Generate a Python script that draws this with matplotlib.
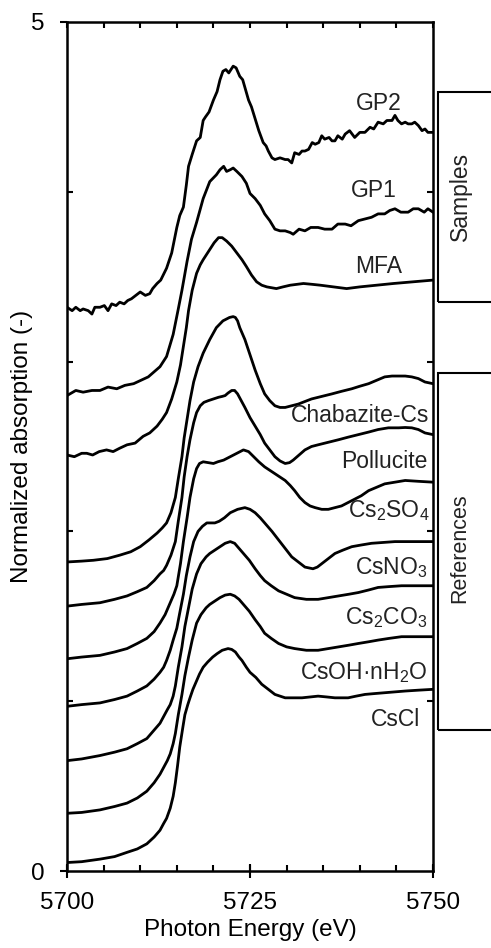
import numpy as np
import matplotlib.pyplot as plt
from matplotlib.patches import Rectangle

plt.rcParams['font.family'] = ['Liberation Sans', 'DejaVu Sans']
plt.rcParams['mathtext.fontset'] = 'custom'
plt.rcParams['mathtext.rm'] = 'Liberation Sans'
plt.rcParams['mathtext.default'] = 'regular'

# Cs L3-edge XANES, stacked: (photon energy eV, normalized absorption + offset)
cscl = [(5700, 0.05), (5702, 0.055), (5704.5, 0.07), (5706.5, 0.085), (5708.2, 0.11),
        (5709.6, 0.13), (5710.9, 0.16), (5711.9, 0.20), (5712.7, 0.24), (5713.2, 0.28),
        (5713.6, 0.31), (5714.1, 0.37), (5714.5, 0.44), (5714.8, 0.52), (5715.1, 0.62),
        (5715.4, 0.73), (5715.8, 0.84), (5716.1, 0.92), (5716.5, 0.98), (5716.8, 1.02),
        (5717.2, 1.07), (5717.6, 1.11), (5718.1, 1.16), (5718.6, 1.20), (5719.2, 1.23),
        (5719.9, 1.26), (5720.5, 1.28), (5721.2, 1.30), (5722.0, 1.31), (5722.5, 1.305),
        (5723.0, 1.29), (5723.5, 1.26), (5723.9, 1.24), (5724.5, 1.20), (5725.0, 1.17),
        (5725.8, 1.14), (5726.6, 1.10), (5727.5, 1.07), (5728.4, 1.04), (5729.1, 1.03),
        (5729.8, 1.02), (5731.0, 1.02), (5732.1, 1.02), (5733.2, 1.025), (5734.3, 1.03),
        (5735.5, 1.025), (5736.6, 1.02), (5738.4, 1.02), (5739.5, 1.03), (5740.7, 1.04),
        (5742.0, 1.045), (5743.4, 1.05), (5744.8, 1.055), (5746.2, 1.06), (5748.0, 1.065),
        (5750, 1.07)]

csoh = [(5700, 0.34), (5702, 0.345), (5704.5, 0.36), (5706.5, 0.38), (5708.2, 0.40),
        (5709.6, 0.43), (5710.9, 0.47), (5711.9, 0.52), (5712.7, 0.57), (5713.2, 0.61),
        (5713.7, 0.65), (5714.1, 0.69), (5714.5, 0.75), (5714.8, 0.81), (5715.2, 0.92),
        (5715.7, 1.04), (5716.1, 1.15), (5716.6, 1.26), (5717.1, 1.36), (5717.7, 1.46),
        (5718.3, 1.51), (5719.0, 1.55), (5719.5, 1.57), (5720.2, 1.59), (5720.9, 1.61),
        (5721.6, 1.625), (5722.3, 1.63), (5722.9, 1.62), (5723.5, 1.60), (5724.1, 1.57),
        (5724.9, 1.53), (5725.7, 1.48), (5726.4, 1.44), (5727.0, 1.40), (5727.9, 1.37),
        (5728.9, 1.34), (5730.0, 1.32), (5731.1, 1.31), (5732.7, 1.30), (5734.3, 1.30),
        (5735.7, 1.31), (5737.1, 1.32), (5738.5, 1.33), (5739.8, 1.34), (5741.2, 1.35),
        (5742.5, 1.36), (5744.0, 1.37), (5745.7, 1.38), (5748.0, 1.38), (5750, 1.38)]

cs2co3 = [(5700, 0.65), (5702, 0.66), (5704.5, 0.68), (5706.5, 0.70), (5708.2, 0.72),
          (5709.6, 0.75), (5710.9, 0.78), (5711.9, 0.83), (5712.7, 0.87), (5713.2, 0.91),
          (5713.7, 0.95), (5714.1, 0.98), (5714.5, 1.03), (5714.8, 1.09), (5715.2, 1.20),
          (5715.7, 1.32), (5716.1, 1.44), (5716.6, 1.55), (5717.1, 1.66), (5717.7, 1.75),
          (5718.3, 1.81), (5719.0, 1.85), (5719.5, 1.87), (5720.2, 1.89), (5720.9, 1.91),
          (5721.6, 1.93), (5722.3, 1.94), (5722.9, 1.93), (5723.5, 1.90), (5724.1, 1.87),
          (5724.9, 1.83), (5725.7, 1.78), (5726.4, 1.74), (5727.0, 1.71), (5727.9, 1.68),
          (5728.9, 1.65), (5730.0, 1.63), (5731.1, 1.61), (5732.7, 1.60), (5734.3, 1.60),
          (5735.7, 1.61), (5737.1, 1.62), (5738.5, 1.63), (5739.8, 1.64), (5741.2, 1.655),
          (5742.5, 1.67), (5744.0, 1.675), (5745.7, 1.68), (5748.0, 1.68), (5750, 1.68)]

csno3 = [(5700, 0.97), (5702, 0.98), (5704.5, 0.99), (5706.5, 1.01), (5708.2, 1.03),
         (5709.6, 1.06), (5710.9, 1.09), (5711.9, 1.13), (5712.7, 1.17), (5713.2, 1.20),
         (5713.6, 1.24), (5714.1, 1.30), (5714.5, 1.36), (5715.0, 1.43), (5715.4, 1.52),
         (5715.9, 1.63), (5716.3, 1.74), (5716.8, 1.85), (5717.3, 1.94), (5717.9, 2.00),
         (5718.5, 2.03), (5719.1, 2.05), (5719.6, 2.05), (5720.2, 2.05), (5720.8, 2.06),
         (5721.5, 2.08), (5722.3, 2.11), (5723.3, 2.13), (5724.3, 2.14), (5725.0, 2.13),
         (5725.7, 2.11), (5726.4, 2.08), (5727.0, 2.05), (5728.0, 2.00), (5728.9, 1.95),
         (5729.8, 1.90), (5730.7, 1.85), (5731.6, 1.82), (5732.5, 1.79), (5733.6, 1.78),
         (5734.2, 1.79), (5734.8, 1.81), (5735.7, 1.84), (5736.6, 1.87), (5737.7, 1.89),
         (5738.9, 1.91), (5740.2, 1.92), (5741.6, 1.93), (5743.2, 1.935), (5744.8, 1.94),
         (5747.0, 1.94), (5750, 1.94)]

cs2so4 = [(5700, 1.25), (5702, 1.26), (5704.5, 1.27), (5706.5, 1.29), (5708.2, 1.31),
          (5709.6, 1.34), (5710.9, 1.37), (5711.9, 1.41), (5712.7, 1.46), (5713.4, 1.51),
          (5714.1, 1.58), (5714.6, 1.63), (5715.0, 1.68), (5715.5, 1.81), (5715.9, 1.94),
          (5716.4, 2.08), (5716.8, 2.20), (5717.3, 2.31), (5717.7, 2.37), (5718.1, 2.40),
          (5718.6, 2.41), (5719.3, 2.405), (5720.0, 2.40), (5720.6, 2.41), (5721.4, 2.42),
          (5722.3, 2.44), (5723.2, 2.46), (5724.1, 2.48), (5724.8, 2.47), (5725.5, 2.44),
          (5726.2, 2.41), (5727.0, 2.38), (5727.7, 2.36), (5728.4, 2.34), (5729.1, 2.32),
          (5729.8, 2.30), (5730.5, 2.27), (5731.1, 2.24), (5731.8, 2.20), (5732.5, 2.17),
          (5733.2, 2.15), (5733.9, 2.14), (5734.8, 2.13), (5735.7, 2.13), (5736.6, 2.14),
          (5737.5, 2.15), (5738.4, 2.17), (5739.3, 2.19), (5740.2, 2.21), (5741.2, 2.24),
          (5742.3, 2.26), (5743.4, 2.28), (5744.8, 2.29), (5746.2, 2.30), (5748.0, 2.295),
          (5750, 2.29)]

pollucite = [(5700, 1.56), (5702, 1.57), (5704.5, 1.58), (5706.5, 1.60), (5708.2, 1.62),
             (5709.6, 1.645), (5710.9, 1.67), (5711.9, 1.71), (5712.7, 1.75), (5713.2, 1.77),
             (5713.6, 1.80), (5714.2, 1.86), (5714.8, 1.94), (5715.2, 2.06), (5715.7, 2.20),
             (5716.0, 2.32), (5716.4, 2.44), (5716.8, 2.54), (5717.3, 2.64), (5717.7, 2.70),
             (5718.2, 2.74), (5718.7, 2.76), (5719.3, 2.77), (5720.0, 2.78), (5720.7, 2.79),
             (5721.2, 2.795), (5721.6, 2.80), (5722.0, 2.815), (5722.5, 2.83), (5722.9, 2.83),
             (5723.3, 2.81), (5723.8, 2.77), (5724.3, 2.73), (5725.0, 2.67), (5725.7, 2.62),
             (5726.4, 2.57), (5727.0, 2.52), (5727.7, 2.48), (5728.4, 2.44), (5729.1, 2.415),
             (5729.8, 2.40), (5730.4, 2.405), (5730.9, 2.42), (5731.7, 2.45), (5732.5, 2.48),
             (5733.4, 2.50), (5734.3, 2.51), (5735.7, 2.525), (5737.1, 2.54), (5738.4, 2.555),
             (5739.8, 2.57), (5741.2, 2.585), (5742.5, 2.60), (5743.9, 2.61), (5745.3, 2.61),
             (5746.2, 2.612), (5747.1, 2.61), (5748.0, 2.60), (5748.9, 2.58), (5750, 2.57)]

chabazite = [(5700, 1.82), (5702, 1.825), (5703.6, 1.83), (5705.5, 1.84), (5707.2, 1.86),
             (5708.7, 1.88), (5710.0, 1.91), (5711.2, 1.95), (5712.3, 1.99), (5713.0, 2.02),
             (5713.6, 2.05), (5714.2, 2.11), (5714.8, 2.20), (5715.2, 2.31), (5715.7, 2.44),
             (5716.0, 2.55), (5716.4, 2.66), (5716.8, 2.77), (5717.3, 2.88), (5717.9, 2.97),
             (5718.6, 3.05), (5719.5, 3.13), (5720.4, 3.20), (5721.3, 3.24), (5722.2, 3.26),
             (5722.7, 3.265), (5723.0, 3.26), (5723.3, 3.24), (5723.6, 3.20), (5724.3, 3.13),
             (5725.0, 3.04), (5725.7, 2.95), (5726.4, 2.87), (5727.0, 2.81), (5727.7, 2.77),
             (5728.4, 2.74), (5729.1, 2.73), (5729.8, 2.73), (5730.7, 2.74), (5731.6, 2.75),
             (5733.4, 2.78), (5734.8, 2.795), (5736.2, 2.81), (5737.5, 2.825), (5738.9, 2.84),
             (5740.0, 2.855), (5741.2, 2.87), (5742.3, 2.89), (5743.4, 2.91), (5744.4, 2.915),
             (5745.3, 2.915), (5746.2, 2.915), (5747.1, 2.91), (5748.0, 2.90), (5748.9, 2.88),
             (5750, 2.87)]

mfa = [(5700, 2.45), (5701, 2.44), (5702, 2.46), (5702.7, 2.46), (5703.5, 2.45),
       (5704.4, 2.47), (5705.4, 2.48), (5706.3, 2.47), (5707.2, 2.49), (5708.2, 2.51),
       (5709.3, 2.52), (5710.4, 2.56), (5711.3, 2.58), (5712.3, 2.62), (5713.0, 2.66),
       (5713.6, 2.70), (5714.3, 2.78), (5715.0, 2.88), (5715.5, 2.98), (5715.9, 3.09),
       (5716.3, 3.20), (5716.6, 3.30), (5717.1, 3.42), (5717.7, 3.52), (5718.2, 3.57),
       (5718.6, 3.60), (5719.5, 3.66), (5720.1, 3.70), (5720.7, 3.73), (5721.2, 3.73),
       (5721.8, 3.71), (5722.5, 3.68), (5723.2, 3.64), (5723.9, 3.60), (5724.5, 3.56),
       (5725.2, 3.51), (5725.9, 3.47), (5726.6, 3.45), (5727.3, 3.44), (5728.6, 3.43),
       (5729.5, 3.44), (5730.5, 3.45), (5732.3, 3.46), (5733.5, 3.455), (5734.6, 3.45),
       (5736.4, 3.44), (5737.3, 3.435), (5738.2, 3.43), (5739.1, 3.435), (5740.0, 3.44),
       (5742.3, 3.45), (5744.6, 3.46), (5747.3, 3.47), (5750, 3.48)]

gp1_e = [5700.0, 5701.2, 5702.2, 5703.4, 5704.5, 5705.6, 5706.8, 5707.9, 5709.1, 5710.1,
         5711.1, 5711.9, 5712.7, 5713.6, 5714.5, 5715.2, 5715.7, 5716.4, 5717.0, 5717.7,
         5718.6, 5719.5, 5720.4, 5720.9, 5721.4, 5721.8, 5722.3, 5722.7, 5723.2, 5723.9,
         5724.5, 5725.0, 5725.7, 5726.4, 5727.0, 5727.7, 5728.4, 5729.1, 5729.8, 5730.5,
         5730.9, 5731.7, 5732.5, 5733.3, 5734.3, 5735.2, 5736.2, 5737.0, 5738.0, 5738.8,
         5739.8, 5740.7, 5741.6, 5742.5, 5743.4, 5744.1, 5744.8, 5745.6, 5746.6, 5747.3,
         5748.0, 5748.8, 5749.3, 5750.0]
gp1_y = [2.80, 2.83, 2.82, 2.83, 2.83, 2.85, 2.84, 2.86, 2.87, 2.89,
         2.91, 2.94, 2.97, 3.03, 3.16, 3.31, 3.42, 3.59, 3.72, 3.82,
         3.96, 4.06, 4.10, 4.13, 4.15, 4.12, 4.13, 4.14, 4.12, 4.09,
         4.05, 3.99, 3.96, 3.92, 3.87, 3.83, 3.78, 3.77, 3.77, 3.76,
         3.75, 3.78, 3.77, 3.79, 3.79, 3.78, 3.78, 3.81, 3.81, 3.80,
         3.83, 3.84, 3.85, 3.87, 3.87, 3.89, 3.90, 3.88, 3.88, 3.90,
         3.90, 3.88, 3.90, 3.88]

gp2_e = [5700.0, 5700.7, 5701.2, 5701.8, 5702.2, 5702.9, 5703.4, 5703.8, 5704.5, 5705.1,
         5705.6, 5706.1, 5706.7, 5707.2, 5707.8, 5708.3, 5708.8, 5709.4, 5710.0, 5710.7,
         5711.3, 5711.7, 5712.3, 5712.8, 5713.6, 5714.3, 5715.0, 5715.4, 5715.9, 5716.3,
         5716.6, 5717.1, 5717.7, 5718.2, 5718.6, 5718.9, 5719.4, 5720.0, 5720.5, 5720.9,
         5721.3, 5721.7, 5722.1, 5722.7, 5723.1, 5723.6, 5724.0, 5724.8, 5725.2, 5725.7,
         5726.2, 5726.8, 5727.2, 5727.5, 5728.0, 5728.4, 5729.1, 5729.8, 5730.2, 5730.7,
         5731.1, 5731.7, 5732.1, 5732.5, 5733.0, 5733.5, 5733.9, 5734.4, 5734.8, 5735.2,
         5735.8, 5736.2, 5736.6, 5737.0, 5737.6, 5738.0, 5738.6, 5739.3, 5740.0, 5740.7,
         5741.4, 5741.9, 5742.5, 5743.2, 5743.7, 5744.4, 5744.8, 5745.2, 5745.7, 5746.2,
         5746.6, 5747.1, 5747.5, 5748.0, 5748.5, 5748.9, 5749.3, 5750.0]
gp2_y = [3.32, 3.30, 3.32, 3.30, 3.31, 3.30, 3.28, 3.32, 3.32, 3.33,
         3.30, 3.34, 3.33, 3.35, 3.34, 3.36, 3.37, 3.39, 3.41, 3.39,
         3.40, 3.43, 3.46, 3.48, 3.55, 3.64, 3.79, 3.86, 3.91, 4.04,
         4.15, 4.22, 4.30, 4.32, 4.42, 4.44, 4.47, 4.54, 4.59, 4.66,
         4.71, 4.72, 4.70, 4.74, 4.73, 4.68, 4.66, 4.54, 4.50, 4.43,
         4.36, 4.29, 4.27, 4.24, 4.20, 4.19, 4.20, 4.19, 4.19, 4.17,
         4.23, 4.22, 4.24, 4.24, 4.25, 4.29, 4.28, 4.29, 4.33, 4.31,
         4.32, 4.30, 4.30, 4.33, 4.31, 4.34, 4.36, 4.32, 4.35, 4.35,
         4.38, 4.37, 4.41, 4.40, 4.42, 4.42, 4.45, 4.42, 4.40, 4.41,
         4.40, 4.40, 4.41, 4.39, 4.36, 4.37, 4.35, 4.35]

spectra = [cscl, csoh, cs2co3, csno3, cs2so4, pollucite, chabazite, mfa,
           list(zip(gp1_e, gp1_y)), list(zip(gp2_e, gp2_y))]

# curve labels and where they sit
names = ["CsCl", "CsOH·nH$_2$O", "Cs$_2$CO$_3$", "CsNO$_3$", "Cs$_2$SO$_4$",
         "Pollucite", "Chabazite-Cs", "MFA", "GP1", "GP2"]
name_x = [5748.3, 5749.3, 5749.2, 5749.2, 5749.5, 5749.3, 5749.5, 5742.6, 5741.9, 5742.6]
name_y = [0.89, 1.17, 1.49, 1.79, 2.12, 2.41, 2.68, 3.56, 4.01, 4.52]
name_ha = ["right"] * 7 + ["center"] * 3

fig = plt.figure(figsize=(4.91, 9.48), dpi=100)
ax = fig.add_axes([0.1365, 0.0812, 0.7454, 0.8956])

for pts in spectra:
    e, y = zip(*pts)
    ax.plot(e, y, color="black", lw=2.0, solid_joinstyle="round")

for t, x, y, ha in zip(names, name_x, name_y, name_ha):
    ax.text(x, y, t, ha=ha, va="center", fontsize=16.5, color="#222222")

ax.set_xlim(5700, 5750)
ax.set_ylim(0, 5)
ax.set_xticks([5700, 5725, 5750])
ax.set_xticks(np.arange(5700, 5751, 5), minor=True)
ax.set_yticks([0, 5])
ax.set_yticks([1, 2, 3, 4], minor=True)
ax.xaxis.remove_overlapping_locs = False

ax.tick_params(axis="x", which="major", direction="inout", length=10.5, width=1.5,
               labelsize=17.5, pad=10, top=False)
ax.tick_params(axis="x", which="minor", direction="in", length=4, width=1.5,
               top=True, bottom=True)
ax.tick_params(axis="y", which="major", direction="out", length=5, width=1.5,
               labelsize=17.5, pad=11, right=False)
ax.tick_params(axis="y", which="minor", direction="in", length=4, width=1.5,
               left=True, right=True)
for s in ax.spines.values():
    s.set_linewidth(1.8)

ax.set_xlabel("Photon Energy (eV)", fontsize=17.5)
ax.set_ylabel("Normalized absorption (-)", fontsize=17.5)
ax.xaxis.set_label_coords(0.5, -0.057)
ax.yaxis.set_label_coords(-0.093, 0.5)

# group brackets on the right
fig.add_artist(Rectangle((0.8927, 0.6817), 0.2, 0.2216, transform=fig.transFigure,
                         fill=False, lw=1.5, color="black"))
fig.add_artist(Rectangle((0.8927, 0.2300), 0.2, 0.3762, transform=fig.transFigure,
                         fill=False, lw=1.5, color="black"))
fig.text(0.9369, 0.7925, "Samples", rotation=90, ha="center", va="center", fontsize=16.5,
         color="#222222")
fig.text(0.9369, 0.4220, "References", rotation=90, ha="center", va="center", fontsize=15.5,
         color="#222222")

fig.savefig("out.png", dpi=100)
